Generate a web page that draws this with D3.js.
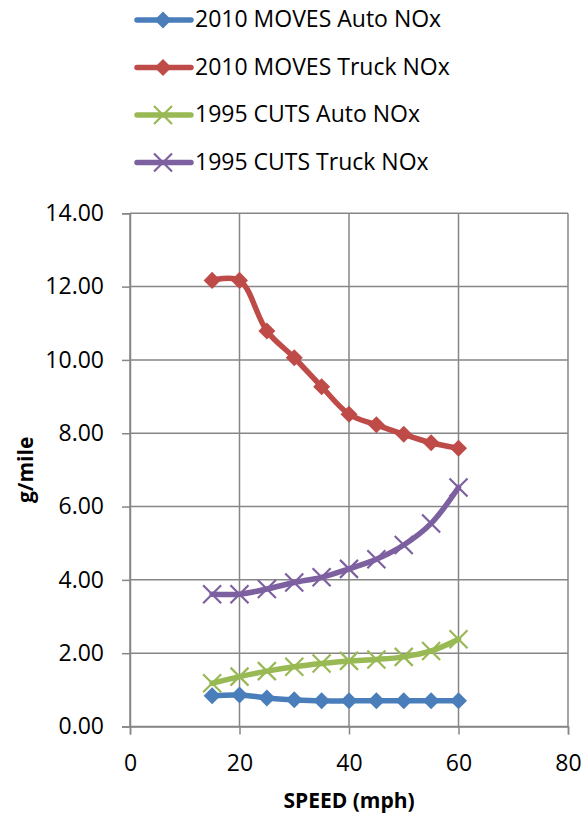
<!DOCTYPE html>
<html>
<script src="https://d3js.org/d3.v7.min.js"></script>
<style>
    body { margin: 0; background: #fff; }
    text { font-family: "Open Sans", "Liberation Sans", sans-serif; fill: #000; }
</style>
<body></body>
<script>
    const speeds = [15, 20, 25, 30, 35, 40, 45, 50, 55, 60];
    const movesAuto = [0.84, 0.86, 0.78, 0.73, 0.70, 0.70, 0.70, 0.70, 0.70, 0.70];
    const movesTruck = [12.17, 12.17, 10.79, 10.06, 9.27, 8.52, 8.23, 7.97, 7.74, 7.59];
    const cutsAuto = [1.18, 1.36, 1.51, 1.63, 1.72, 1.79, 1.83, 1.90, 2.06, 2.38];
    const cutsTruck = [3.61, 3.61, 3.75, 3.93, 4.07, 4.30, 4.56, 4.95, 5.54, 6.52];
    const seriesNames = ["2010 MOVES Auto NOx", "2010 MOVES Truck NOx", "1995 CUTS Auto NOx", "1995 CUTS Truck NOx"];
    const xTicks = [0, 20, 40, 60, 80];
    const yTicks = [0, 2, 4, 6, 8, 10, 12, 14];

    const series = [
        { name: seriesNames[0], values: movesAuto, color: "#4a7ebb", marker: "diamond" },
        { name: seriesNames[1], values: movesTruck, color: "#be4b48", marker: "diamond" },
        { name: seriesNames[2], values: cutsAuto, color: "#98b954", marker: "x" },
        { name: seriesNames[3], values: cutsTruck, color: "#7d60a0", marker: "x" }
    ];

    const width = 583, height = 816;
    const svg = d3.select("body").append("svg").attr("width", width).attr("height", height);

    const x = d3.scaleLinear().domain([0, 80]).range([130, 568]);
    const y = d3.scaleLinear().domain([0, 14]).range([726.5, 213.3]);
    const grid = "#868686";

    // grid
    svg.append("g").selectAll("line").data(yTicks).join("line")
        .attr("x1", x(0)).attr("x2", x(80))
        .attr("y1", d => y(d)).attr("y2", d => y(d))
        .attr("stroke", grid).attr("stroke-width", 1.5);
    svg.append("g").selectAll("line").data(xTicks).join("line")
        .attr("x1", d => x(d)).attr("x2", d => x(d))
        .attr("y1", y(0)).attr("y2", y(14))
        .attr("stroke", grid).attr("stroke-width", 1.5);

    // axes
    const yAxis = svg.append("g")
        .attr("transform", `translate(${x(0)},0)`)
        .call(d3.axisLeft(y).tickValues(yTicks).tickFormat(d3.format(".2f")).tickSize(8).tickPadding(18));
    const xAxis = svg.append("g")
        .attr("transform", `translate(0,${y(0)})`)
        .call(d3.axisBottom(x).tickValues(xTicks).tickSize(8).tickPadding(20));
    [xAxis, yAxis].forEach(a => {
        a.select(".domain").attr("stroke", grid).attr("stroke-width", 1.5);
        a.selectAll(".tick line").attr("stroke", grid).attr("stroke-width", 1.5);
        a.selectAll(".tick text").attr("font-size", 23).attr("font-family", "Open Sans");
    });

    // lines
    const line = d3.line()
        .x((d, i) => x(speeds[i]))
        .y(d => y(d))
        .curve(d3.curveCatmullRom.alpha(0.5));

    const diamond = d3.symbol().type(d3.symbolDiamond2).size(185);

    function drawMarker(g, type, color) {
        if (type === "diamond") {
            g.append("path").attr("d", diamond()).attr("fill", color);
        } else {
            g.append("path").attr("d", "M-9,-9L9,9M-9,9L9,-9")
                .attr("stroke", color).attr("stroke-width", 2.2).attr("fill", "none");
        }
    }

    series.forEach(s => {
        svg.append("path").datum(s.values)
            .attr("d", line)
            .attr("fill", "none")
            .attr("stroke", s.color)
            .attr("stroke-width", 5.5)
            .attr("stroke-linecap", "round");
        s.values.forEach((v, i) => {
            const g = svg.append("g").attr("transform", `translate(${x(speeds[i])},${y(v)})`);
            drawMarker(g, s.marker, s.color);
        });
    });

    // legend
    const legend = svg.append("g");
    series.forEach((s, i) => {
        const ly = 20 + i * 47.5;
        const g = legend.append("g").attr("transform", `translate(0,${ly})`);
        g.append("line").attr("x1", 137).attr("x2", 191).attr("y1", 0).attr("y2", 0)
            .attr("stroke", s.color).attr("stroke-width", 5.5).attr("stroke-linecap", "round");
        const m = g.append("g").attr("transform", "translate(163,0)");
        drawMarker(m, s.marker, s.color);
        g.append("text").attr("x", 195).attr("y", 7)
            .attr("font-size", 23).text(s.name);
    });

    // axis titles
    svg.append("text")
        .attr("transform", `translate(33,${(y(0) + y(14)) / 2}) rotate(-90)`)
        .attr("text-anchor", "middle")
        .attr("font-size", 21).attr("font-weight", "bold")
        .text("g/mile");
    svg.append("text")
        .attr("x", x(40)).attr("y", 808)
        .attr("text-anchor", "middle")
        .attr("font-size", 21).attr("font-weight", "bold")
        .text("SPEED (mph)");
</script>
</html>
